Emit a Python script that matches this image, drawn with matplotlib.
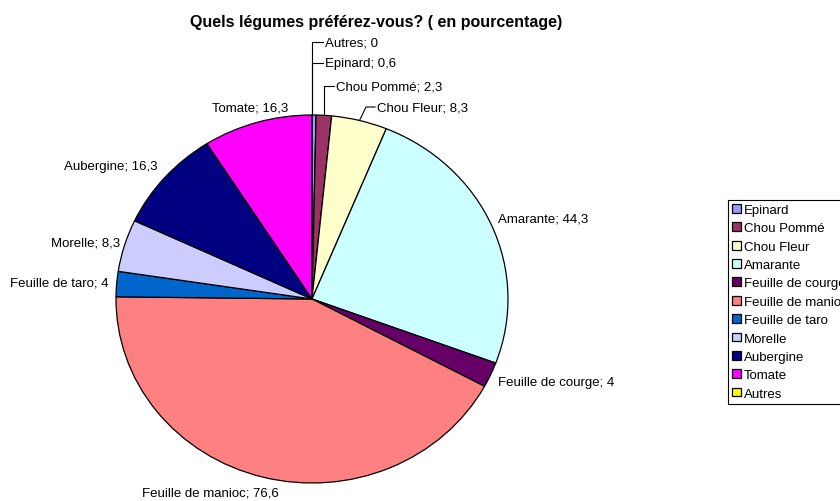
import numpy as np
import matplotlib.pyplot as plt

plt.rcParams['font.family'] = ['Liberation Sans', 'DejaVu Sans']

# Data
categories = ['Epinard', 'Chou Pommé', 'Chou Fleur', 'Amarante', 'Feuille de courge',
              'Feuille de manioc', 'Feuille de taro', 'Morelle', 'Aubergine', 'Tomate', 'Autres']
values = [0.6, 2.3, 8.3, 44.3, 4, 76.6, 4, 8.3, 16.3, 16.3, 0]
value_labels = ['0,6', '2,3', '8,3', '44,3', '4', '76,6', '4', '8,3', '16,3', '16,3', '0']
colors = ['#9999FF', '#993366', '#FFFFCC', '#CCFFFF', '#660066', '#FF8080',
          '#0066CC', '#CCCCFF', '#000080', '#FF00FF', '#FFFF00']

W, H = 840, 502
fig = plt.figure(figsize=(W / 100, H / 100), dpi=100)

# pie area in pixels (slightly elliptic like the original)
cx, cy, rx, ry = 312, 300, 196, 184
ax = fig.add_axes([(cx - rx) / W, 1 - (cy + ry) / H, 2 * rx / W, 2 * ry / H])
wedges, _ = ax.pie(values, colors=colors, startangle=90, counterclock=False,
                   wedgeprops=dict(edgecolor='black', linewidth=0.9), radius=1)
ax.set_aspect('auto')
ax.set_xlim(-1, 1)
ax.set_ylim(-1, 1)
ax.axis('off')


def to_data(px, py):
    return (px - cx) / rx, (cy - py) / ry


# label text positions (pixels) and alignment, optional elbow for leader lines
label_pos = {
    'Autres': (325, 43, 'left', (312, 43)),
    'Epinard': (325, 64, 'left', (312, 64)),
    'Chou Pommé': (336, 87, 'left', None),
    'Chou Fleur': (377, 108, 'left', (366, 108)),
    'Amarante': (498, 219, 'left', None),
    'Feuille de courge': (498, 383, 'left', None),
    'Feuille de manioc': (142, 494, 'left', None),
    'Feuille de taro': (108, 284, 'right', None),
    'Morelle': (120, 243, 'right', None),
    'Aubergine': (157, 167, 'right', None),
    'Tomate': (288, 108, 'right', None),
}

total = sum(values)
cum = np.cumsum([0] + values)
for i, name in enumerate(categories):
    px, py, ha, elbow = label_pos[name]
    tx, ty = to_data(px, py)
    ax.text(tx, ty, f'{name}; {value_labels[i]}', ha=ha, va='center', fontsize=9.5,
            clip_on=False)
    mid = (cum[i] + values[i] / 2) / total * 2 * np.pi
    wx, wy = np.sin(mid), np.cos(mid)
    if name in ('Autres', 'Epinard', 'Chou Pommé', 'Chou Fleur'):
        if elbow is None:
            ex, ey = to_data(cx + rx * wx, py)
        else:
            ex, ey = to_data(*elbow)
        hx, _ = to_data(px - 2, py)
        if name in ('Autres', 'Epinard'):
            wx = ex
        ax.plot([wx, ex, hx], [wy, ey, ey], color='black', linewidth=0.8, clip_on=False)

fig.text(376 / W, 1 - 22 / H, 'Quels légumes préférez-vous? ( en pourcentage)',
         ha='center', va='center', fontsize=11.5, fontweight='bold')

# legend runs past the right edge, as in the original
leg = fig.legend(wedges, categories, loc='upper left',
                 bbox_to_anchor=(728 / W, 1 - 201 / H), fontsize=9.5,
                 fancybox=False, edgecolor='black', framealpha=1,
                 handlelength=0.65, handleheight=0.65, handletextpad=0.25,
                 labelspacing=0.48, borderpad=0.3, borderaxespad=0)
leg.get_frame().set_linewidth(0.8)

fig.savefig('out.png', dpi=100)
